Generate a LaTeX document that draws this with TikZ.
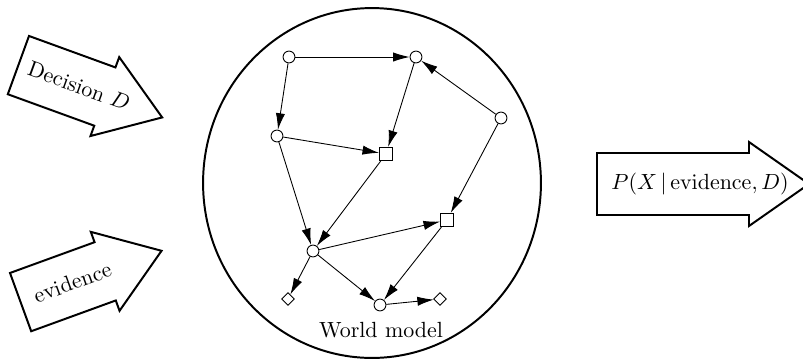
\documentclass[tikz,border=0pt]{standalone}
\usetikzlibrary{arrows.meta,shapes.geometric}
\begin{document}
\begin{tikzpicture}[x=0.016cm,y=0.016cm,
    chance/.style={circle,draw,inner sep=0pt,minimum size=5.4pt},
    decision/.style={rectangle,draw,inner sep=0pt,minimum size=6pt},
    utility/.style={diamond,draw,inner sep=0pt,minimum size=5.8pt},
    link/.style={-{Latex[length=7.5pt,width=4.2pt]},line width=0.4pt},
    bigarrow/.style={draw,line width=0.9pt}]
    \useasboundingbox (0,0) rectangle (803,360);
    \draw[line width=0.9pt] (372,177) ellipse [x radius=2.704cm, y radius=2.8cm];
    \draw[bigarrow, shift={(18.4,294.9)}, rotate=-20] (0,31) -- (92,31) -- (92,42) -- (153,0) -- (92,-42) -- (92,-31) -- (0,-31) -- cycle;
    \draw[bigarrow, shift={(20.6,57.9)}, rotate=20] (0,31) -- (90,31) -- (90,42) -- (150,0) -- (90,-42) -- (90,-31) -- (0,-31) -- cycle;
    \draw[bigarrow, shift={(597,176)}] (0,31) -- (152,31) -- (152,42) -- (212,0) -- (152,-42) -- (152,-31) -- (0,-31) -- cycle;
    \node[rotate=-20,inner sep=1pt] (dlabel) at (79,274) {Decision $D$};
    \node[rotate=20,inner sep=1pt] (elabel) at (72.4,77.6) {evidence};
    \node[inner sep=1pt] (qlabel) at (700,176) {$P(X\,|\,\mathrm{evidence},D)$};
    \node[chance] (a) at (289,303) {};
    \node[chance] (b) at (416,303) {};
    \node[chance] (c) at (277,224) {};
    \node[decision] (d) at (386,206) {};
    \node[chance] (e) at (501,242) {};
    \node[decision] (f) at (447,140) {};
    \node[chance] (g) at (313,109) {};
    \node[utility] (h) at (288,61) {};
    \node[chance] (i) at (380,55) {};
    \node[utility] (j) at (440,61) {};
    \node (wm) at (381,30) {World model};
    \draw[link] (a) -- (b);
    \draw[link] (a) -- (c);
    \draw[link] (b) -- (d);
    \draw[link] (c) -- (d);
    \draw[link] (c) -- (g);
    \draw[link] (d) -- (g);
    \draw[link] (e) -- (b);
    \draw[link] (e) -- (f);
    \draw[link] (g) -- (f);
    \draw[link] (g) -- (h);
    \draw[link] (g) -- (i);
    \draw[link] (f) -- (i);
    \draw[link] (i) -- (j);
\end{tikzpicture}
\end{document}
